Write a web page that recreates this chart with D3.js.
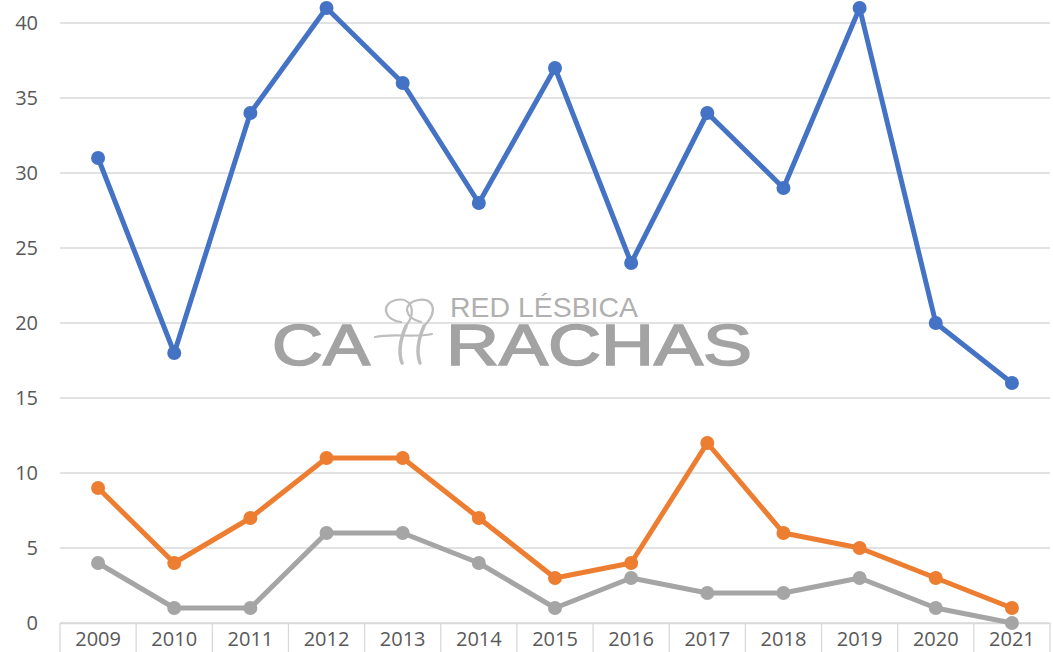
<!DOCTYPE html>
<html>
<head>
<meta charset="utf-8">
<script src="https://cdn.jsdelivr.net/npm/d3@7"></script>
<style>
  body { margin: 0; background: #fff; }
  svg { display: block; }
</style>
</head>
<body>
<svg id="chart" width="1053" height="652"></svg>
<script>
// data
var years = ['2009', '2010', '2011', '2012', '2013', '2014', '2015', '2016', '2017', '2018', '2019', '2020', '2021'];
var blueVals = [31, 18, 34, 41, 36, 28, 37, 24, 34, 29, 41, 20, 16];
var orangeVals = [9, 4, 7, 11, 11, 7, 3, 4, 12, 6, 5, 3, 1];
var grayVals = [4, 1, 1, 6, 6, 4, 1, 3, 2, 2, 3, 1, 0];
var yTicks = [0, 5, 10, 15, 20, 25, 30, 35, 40];

const svg = d3.select('#chart');
const plotL = 60, plotR = 1050, plotT = 23, plotB = 623;

const x = d3.scaleBand().domain(years).range([plotL, plotR]);
const y = d3.scaleLinear().domain([0, 40]).range([plotB, plotT]);

// gridlines
svg.append('g')
    .selectAll('line')
    .data(yTicks)
    .join('line')
    .attr('x1', plotL)
    .attr('x2', plotR)
    .attr('y1', d => y(d))
    .attr('y2', d => y(d))
    .attr('stroke', '#d9d9d9')
    .attr('stroke-width', 1.3);

// y labels
svg.append('g')
    .selectAll('text')
    .data(yTicks)
    .join('text')
    .attr('x', 38)
    .attr('y', d => y(d) + 7)
    .attr('text-anchor', 'end')
    .style('font', '20px "Open Sans", sans-serif')
    .attr('fill', '#595959')
    .text(d => d);

// x axis with category dividers
const xAxis = svg.append('g')
    .attr('transform', `translate(0 ${plotB})`)
    .call(d3.axisBottom(x).tickSize(0).tickPadding(9));
xAxis.select('.domain').attr('stroke', '#d9d9d9').attr('stroke-width', 1.3);
xAxis.selectAll('text')
    .style('font', '20px "Open Sans", sans-serif')
    .attr('fill', '#595959');
xAxis.selectAll('.divider')
    .data(years.concat(['end']))
    .join('line')
    .attr('class', 'divider')
    .attr('x1', (d, i) => plotL + i * x.step())
    .attr('x2', (d, i) => plotL + i * x.step())
    .attr('y1', 0)
    .attr('y2', 30)
    .attr('stroke', '#d9d9d9')
    .attr('stroke-width', 1.3);

// watermark
const wm = svg.append('g').attr('fill', '#a3a3a3');
wm.append('text').attr('x', 450).attr('y', 317)
    .attr('textLength', 188).attr('lengthAdjust', 'spacingAndGlyphs')
    .style('font', '28px "Liberation Sans", Arial, sans-serif')
    .attr('fill', '#b0b0b0')
    .text('RED LÉSBICA');
wm.append('text').attr('x', 272).attr('y', 365)
    .attr('textLength', 98).attr('lengthAdjust', 'spacingAndGlyphs')
    .attr('stroke', '#a3a3a3').attr('stroke-width', 1.6)
    .style('font', '58px "Liberation Sans", Arial, sans-serif')
    .text('CA');
wm.append('text').attr('x', 446).attr('y', 365)
    .attr('textLength', 306).attr('lengthAdjust', 'spacingAndGlyphs')
    .attr('stroke', '#a3a3a3').attr('stroke-width', 1.6)
    .style('font', '58px "Liberation Sans", Arial, sans-serif')
    .text('RACHAS');
// logo mark between CA and RACHAS
const logo = wm.append('g').attr('fill', 'none').attr('stroke', '#bdbdbd')
    .attr('stroke-width', 2.2).attr('stroke-linecap', 'round');
logo.append('path').attr('d', 'M401 322 C 384 320, 380 304, 396 300 C 410 297, 418 310, 406 326');
logo.append('path').attr('d', 'M421 322 C 404 318, 402 303, 418 300 C 432 297, 440 310, 424 326');
logo.append('path').attr('d', 'M406 326 C 400 340, 398 352, 402 363').attr('stroke-width', 3.5);
logo.append('path').attr('d', 'M424 326 C 418 340, 416 352, 420 363').attr('stroke-width', 3.5);
logo.append('path').attr('d', 'M375 337 C 392 333, 415 338, 432 334');

// series
const series = [
    { vals: grayVals, color: '#a5a5a5' },
    { vals: orangeVals, color: '#ed7d31' },
    { vals: blueVals, color: '#4472c4' }
];

const line = d3.line()
    .x((d, i) => x(years[i]) + x.bandwidth() / 2)
    .y(d => y(d));

series.forEach(s => {
    svg.append('path')
        .datum(s.vals)
        .attr('fill', 'none')
        .attr('stroke', s.color)
        .attr('stroke-width', 5)
        .attr('stroke-linejoin', 'round')
        .attr('d', line);
    svg.append('g')
        .selectAll('circle')
        .data(s.vals)
        .join('circle')
        .attr('cx', (d, i) => x(years[i]) + x.bandwidth() / 2)
        .attr('cy', d => y(d))
        .attr('r', 7)
        .attr('fill', s.color);
});
</script>
</body>
</html>
